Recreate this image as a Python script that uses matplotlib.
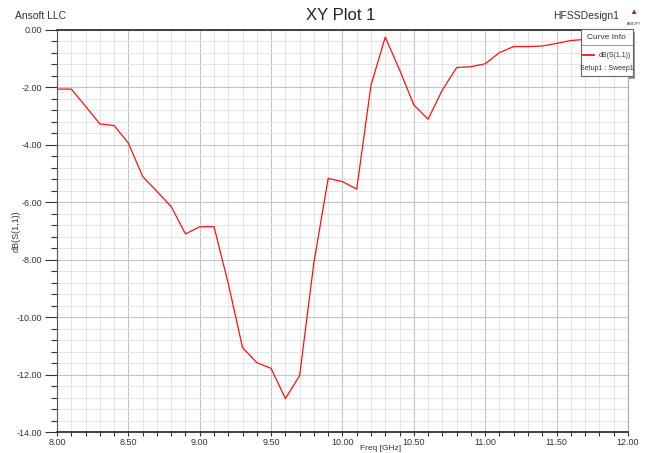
import numpy as np
import matplotlib.pyplot as plt
from matplotlib.ticker import MultipleLocator, FormatStrFormatter

plt.rcParams['font.family'] = ['Liberation Sans', 'DejaVu Sans']

# Frequency sweep (GHz) and return loss dB(S(1,1))
freq = [8.0, 8.1, 8.2, 8.3, 8.4, 8.5, 8.6, 8.7, 8.8, 8.9,
        9.0, 9.1, 9.2, 9.3, 9.4, 9.5, 9.6, 9.7, 9.8, 9.9,
        10.0, 10.1, 10.2, 10.3, 10.4, 10.5, 10.6, 10.7, 10.8, 10.9,
        11.0, 11.1, 11.2, 11.3, 11.4, 11.5, 11.6, 11.7, 11.8, 11.9, 12.0]
s11_db = [-2.06, -2.06, -2.66, -3.27, -3.33, -3.94, -5.10, -5.62, -6.15, -7.10,
          -6.85, -6.85, -8.83, -11.06, -11.58, -11.78, -12.83, -12.03, -8.09, -5.17,
          -5.28, -5.54, -1.92, -0.25, -1.39, -2.61, -3.11, -2.09, -1.31, -1.28,
          -1.18, -0.79, -0.58, -0.58, -0.56, -0.47, -0.37, -0.33, -0.30, -0.27, -0.25]

fig = plt.figure(figsize=(6.48, 4.53), dpi=100)
ax = fig.add_axes([0.088, 0.046, 0.881, 0.888])

ax.plot(freq, s11_db, color='#ff1010', lw=0.9, zorder=3)

ax.set_xlim(8.0, 12.0)
ax.set_ylim(-14.0, 0.0)
ax.xaxis.set_major_locator(MultipleLocator(0.5))
ax.xaxis.set_minor_locator(MultipleLocator(0.1))
ax.yaxis.set_major_locator(MultipleLocator(2.0))
ax.yaxis.set_minor_locator(MultipleLocator(0.4))
ax.xaxis.set_major_formatter(FormatStrFormatter('%.2f'))
ax.yaxis.set_major_formatter(FormatStrFormatter('%.2f'))

ax.grid(which='major', color='#c4c4c4', lw=0.8)
ax.grid(which='minor', color='#e4e4e4', lw=0.7)
ax.set_axisbelow(True)

ax.tick_params(which='major', direction='out', length=9, width=0.8, labelsize=6.5, colors='#333333', pad=2)
ax.tick_params(which='minor', direction='out', length=4, width=0.8, colors='#333333')
ax.tick_params(axis='x', which='major', length=3, pad=1.5)
ax.tick_params(axis='x', which='minor', length=3)

for side in ['top', 'bottom']:
    ax.spines[side].set_color('#333333')
    ax.spines[side].set_linewidth(1.3)
ax.spines['left'].set_color('#555555')
ax.spines['left'].set_linewidth(0.8)
ax.spines['right'].set_color('#aaaaaa')
ax.spines['right'].set_linewidth(0.8)

ax.set_ylabel('dB(S(1,1))', fontsize=6.5, color='#333333')
ax.yaxis.set_label_coords(-0.064, 0.5)
ax.set_xlabel('Freq [GHz]', fontsize=6, color='#333333')
ax.xaxis.set_label_coords(0.566, -0.05)
ax.xaxis.label.set_va('bottom')

fig.text(0.525, 0.965, 'XY Plot 1', ha='center', va='center', fontsize=12, color='#222222')
fig.text(0.023, 0.965, 'Ansoft LLC', ha='left', va='center', fontsize=7.5, color='#333333')
fig.text(0.955, 0.965, 'HFSSDesign1', ha='right', va='center', fontsize=7.5, color='#333333')
fig.text(0.978, 0.972, '\u25b2', ha='center', va='center', fontsize=6, color='#a03030')
fig.text(0.978, 0.948, 'ANSOFT', ha='center', va='center', fontsize=2.5, color='#333333')

# Curve info box
box = fig.add_axes([0.896, 0.832, 0.081, 0.104])
box.set_xlim(0, 1)
box.set_ylim(0, 1)
box.set_xticks([])
box.set_yticks([])
for sp in box.spines.values():
    sp.set_color('#666666')
    sp.set_linewidth(0.8)
box.axhline(0.66, color='#888888', lw=0.6)
box.text(0.5, 0.83, 'Curve Info', ha='center', va='center', fontsize=6, color='#333333')
box.plot([0.05, 0.25], [0.44, 0.44], color='#ff1010', lw=1.3)
box.text(0.97, 0.44, 'dB(S(1,1))', ha='right', va='center', fontsize=5, color='#333333')
box.text(0.5, 0.17, 'Setup1 : Sweep1', ha='center', va='center', fontsize=5, color='#333333')
shadow = fig.add_axes([0.899, 0.826, 0.081, 0.104], zorder=box.get_zorder() - 0.5)
shadow.set_facecolor('#999999')
shadow.set_xticks([])
shadow.set_yticks([])
for sp in shadow.spines.values():
    sp.set_visible(False)
box.set_zorder(shadow.get_zorder() + 1)

fig.savefig('out.png', dpi=100)
